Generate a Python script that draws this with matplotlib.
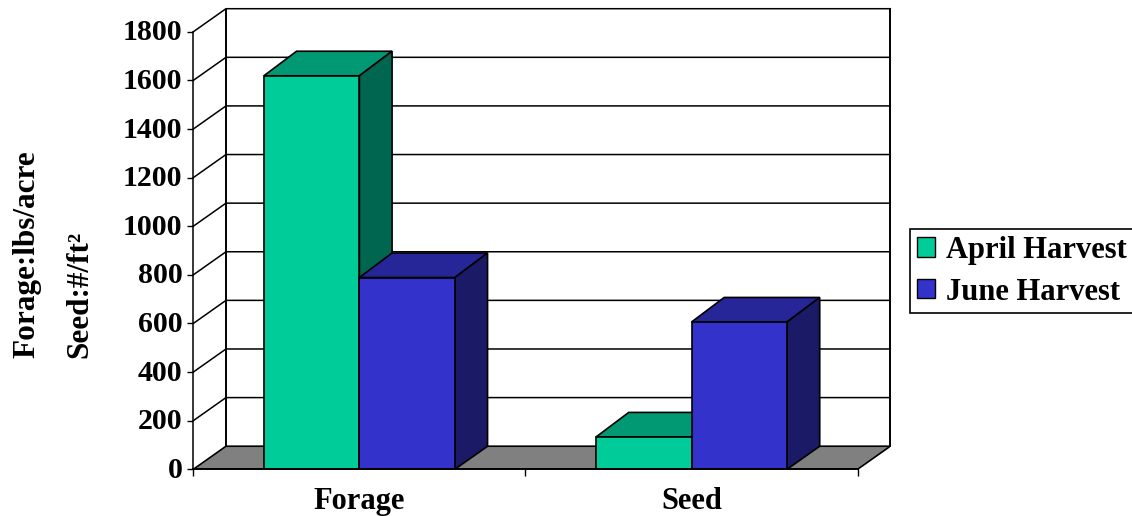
import matplotlib
matplotlib.use("Agg")
import matplotlib.pyplot as plt
from matplotlib.patches import Polygon, Patch
from matplotlib.transforms import ScaledTranslation
import numpy as np

categories = ['Forage', 'Seed']
april = [1619, 133]
june = [789, 606]
y_ticks = [0, 200, 400, 600, 800, 1000, 1200, 1400, 1600, 1800]
series_names = ['April Harvest', 'June Harvest']

# front, top, side colours
green = ['#00CC99', '#009973', '#006650']
blue = ['#3333CC', '#262699', '#1A1A66']

plt.rcParams["font.family"] = "Liberation Serif"
plt.rcParams["font.weight"] = "bold"

W, H = 1132, 516
fig = plt.figure(figsize=(W / 100, H / 100), dpi=100)
left, right, top, bottom = 193.3, 890.3, 8.7, 469.3
ax = fig.add_axes([left / W, 1 - bottom / H, (right - left) / W, (bottom - top) / H])
ax.patch.set_visible(False)

# depth of the fake 3d box in data units
dx = 0.0984
dy = 95
bar_top_dy = 101
bar_w = 0.2875
ax.set_xlim(0, 2 + dx)
ax.set_ylim(0, 1800 + dy)

# floor and wall lines
ax.add_patch(Polygon([(0, 0), (2, 0), (2 + dx, dy), (dx, dy)], fc='#808080', ec='black', lw=1.2, zorder=1))
for v in y_ticks[1:]:
    ax.plot([0, dx, 2 + dx], [v, v + dy, v + dy], color='black', lw=1.1, zorder=1, clip_on=False)
ax.plot([dx, dx], [dy, 1800 + dy], color='black', lw=1.4, zorder=1)
ax.plot([2 + dx, 2 + dx], [dy, 1800 + dy], color='black', lw=1.4, zorder=1, clip_on=False)


def draw_bar(x0, x1, v, cols, z):
    ax.add_patch(Polygon([(x0, 0), (x1, 0), (x1, v), (x0, v)], fc=cols[0], ec='black', lw=1.2, zorder=z + 0.2))
    ax.add_patch(Polygon([(x0, v), (x1, v), (x1 + dx, v + bar_top_dy), (x0 + dx, v + bar_top_dy)], fc=cols[1], ec='black', lw=1.2, zorder=z))
    ax.add_patch(Polygon([(x1, 0), (x1 + dx, dy), (x1 + dx, v + bar_top_dy), (x1, v)], fc=cols[2], ec='black', lw=1.2, zorder=z))


for i in range(len(categories)):
    c = i + 0.5
    draw_bar(c - bar_w, c, april[i], green, 2)
    draw_bar(c, c + bar_w, june[i], blue, 3)

for s in ['top', 'right']:
    ax.spines[s].set_visible(False)
ax.spines['left'].set_bounds(0, 1800)
ax.spines['bottom'].set_bounds(0, 2)
ax.spines['left'].set_linewidth(1.1)
ax.spines['bottom'].set_linewidth(1.4)
ax.spines['left'].set_zorder(5)
ax.spines['bottom'].set_zorder(5)

ax.set_yticks(y_ticks)
ax.tick_params(axis='y', labelsize=21.5, length=4.3, width=1.0, pad=3.5)
up = ScaledTranslation(0, 2 / 100, fig.dpi_scale_trans)
for lab in ax.get_yticklabels():
    lab.set_transform(lab.get_transform() + up)
ax.set_xticks([0, 1, 2])
ax.set_xticklabels([])
ax.set_xticks([0.5, 1.5], minor=True)
ax.set_xticklabels(categories, minor=True, fontsize=22)
ax.tick_params(axis='x', which='major', length=5, width=1.0)
ax.tick_params(axis='x', which='minor', length=0, pad=13)

fig.text(27 / W, 1 - 358 / H, 'Forage:lbs/acre', rotation=90, ha='center', va='bottom', fontsize=22.5)
fig.text(80 / W, 1 - 358 / H, 'Seed:#/ft²', rotation=90, ha='center', va='bottom', fontsize=22.5)

handles = [Patch(fc=green[0], ec='black', lw=1.0), Patch(fc=blue[0], ec='black', lw=1.0)]
leg = ax.legend(handles, series_names, loc='upper left', bbox_to_anchor=(910 / W, 1 - 229 / H),
                bbox_transform=fig.transFigure, borderaxespad=0, fontsize=22, fancybox=False,
                framealpha=1, edgecolor='black', handlelength=0.6, handleheight=0.6,
                handletextpad=0.35, borderpad=0.22, labelspacing=0.42)
leg.get_frame().set_linewidth(1.2)

fig.savefig('out.png', dpi=100)
